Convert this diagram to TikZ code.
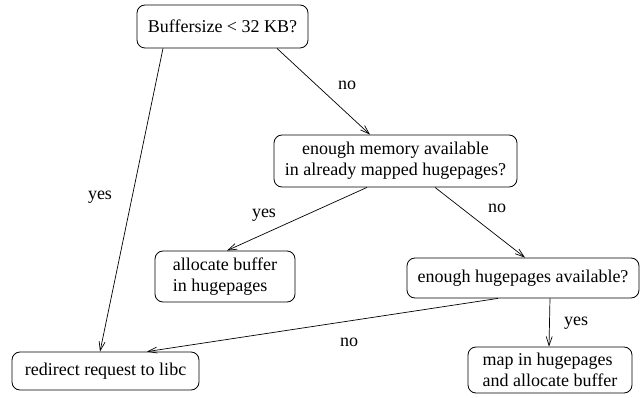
\documentclass[tikz,border=0pt]{standalone}
\usepackage{fontspec}
\setmainfont{Liberation Serif}
\usetikzlibrary{arrows.meta}
\begin{document}
\begin{tikzpicture}[x=1pt,y=-1pt,
  box/.style={draw, rounded corners=8pt, line width=0.8pt, inner sep=0pt, font=\fontsize{18}{21}\selectfont},
  lbl/.style={anchor=base, inner sep=0pt, font=\fontsize{18}{21}\selectfont},
  conn/.style={draw, line width=0.7pt, -{Straight Barb[length=9pt,width=6pt]}}]
\useasboundingbox (0,0) rectangle (643,398);
\node[box, minimum width=171pt, minimum height=43pt] (b1) at (222.5,26.5) {Buffersize < 32 KB?};
\node[box, minimum width=243pt, minimum height=52pt, align=center] (b2) at (395.5,161) {enough memory available\\in already mapped hugepages?};
\node[box, minimum width=140pt, minimum height=51pt, align=left] (b3) at (225,276.5) {allocate buffer\\in hugepages};
\node[box, minimum width=232pt, minimum height=40pt] (b4) at (523,278) {enough hugepages available?};
\node[box, minimum width=187pt, minimum height=38pt] (b5) at (105.5,371) {redirect request to libc};
\node[box, minimum width=164pt, minimum height=46pt, align=left] (b6) at (550,370) {map in hugepages\\and allocate buffer};

\draw[conn] ([xshift=-59.5pt]b1.south) -- ([xshift=-5.5pt]b5.north);
\draw[conn] ([xshift=54.5pt]b1.south) -- ([xshift=-25.5pt]b2.north);
\draw[conn] ([xshift=-28.5pt]b2.south) -- ([xshift=2pt]b3.north);
\draw[conn] ([xshift=39.5pt]b2.south) -- ([xshift=2pt]b4.north);
\draw[conn] ([xshift=-25pt]b4.south) -- ([xshift=41.5pt]b5.north);
\draw[conn] ([xshift=27pt]b4.south) -- ([xshift=-1pt]b6.north);

\node[lbl] (l1) at (347,90) {no};
\node[lbl] (l2) at (100,200) {yes};
\node[lbl] (l3) at (264,218) {yes};
\node[lbl] (l4) at (497,213) {no};
\node[lbl] (l5) at (349,346) {no};
\node[lbl] (l6) at (576,325) {yes};
\end{tikzpicture}
\end{document}
